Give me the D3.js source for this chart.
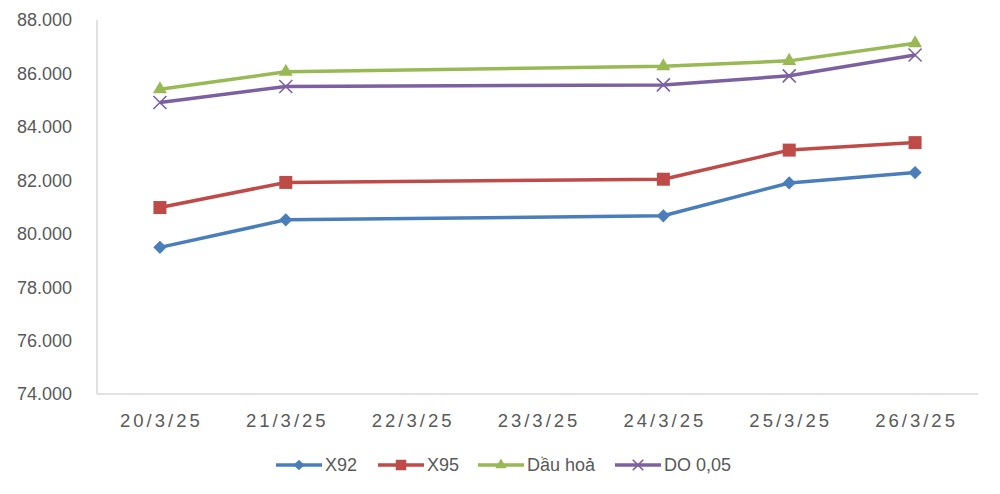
<!DOCTYPE html>
<html>
<head>
<meta charset="utf-8">
<script src="https://cdn.jsdelivr.net/npm/d3@7"></script>
<style>
  body { margin: 0; background: #fff; }
  text { font-family: 'Liberation Sans', Arial, sans-serif; fill: #595959; }
</style>
</head>
<body>
<div id="chart"></div>
<script>
const dates = ['20/3/25', '21/3/25', '22/3/25', '23/3/25', '24/3/25', '25/3/25', '26/3/25'];
// null = no quote that day, the line just joins across
const x92 = [79.49, 80.52, null, null, 80.67, 81.90, 82.29];
const x95 = [80.98, 81.92, null, null, 82.04, 83.13, 83.41];
const dauHoa = [85.41, 86.06, null, null, 86.27, 86.47, 87.13];
const do005 = [84.91, 85.51, null, null, 85.57, 85.91, 86.69];
const yTicks = [74, 76, 78, 80, 82, 84, 86, 88];

const seriesNames = ['X92', 'X95', 'Dầu hoả', 'DO 0,05'];
const seriesValues = [x92, x95, dauHoa, do005];
const colors = ['#4a7ebb', '#be4b48', '#98b954', '#7d60a0'];
const markers = ['diamond', 'square', 'triangle', 'x'];

const W = 1000;
const H = 494;
const margin = { top: 20, right: 22, bottom: 100, left: 97 };
const width = W - margin.left - margin.right;
const height = H - margin.top - margin.bottom;

const svg = d3.select('#chart').append('svg')
  .attr('width', W)
  .attr('height', H);

const g = svg.append('g')
  .attr('transform', `translate(${margin.left},${margin.top})`);

const xScale = d3.scaleBand()
  .domain(dates)
  .range([0, width]);

const yScale = d3.scaleLinear()
  .domain([74, 88])
  .range([height, 0]);

// y axis labels (88.000 style)
g.selectAll('.ylab')
  .data(yTicks)
  .enter().append('text')
  .attr('class', 'ylab')
  .attr('x', -25)
  .attr('y', d => yScale(d))
  .attr('dy', '0.36em')
  .attr('text-anchor', 'end')
  .style('font-size', '18px')
  .text(d => d3.format('.3f')(d));

// axis lines
g.append('line')
  .attr('x1', 0).attr('x2', 0)
  .attr('y1', 0).attr('y2', height)
  .attr('stroke', '#d9d9d9')
  .attr('stroke-width', 1.5);

g.append('line')
  .attr('x1', 0).attr('x2', width)
  .attr('y1', height).attr('y2', height)
  .attr('stroke', '#d9d9d9')
  .attr('stroke-width', 1.5);

// x labels, Excel-style letter spacing
g.selectAll('.xlab')
  .data(dates)
  .enter().append('text')
  .attr('class', 'xlab')
  .attr('x', d => xScale(d) + xScale.bandwidth() / 2 + 1.5)
  .attr('y', height + 26)
  .attr('dy', '0.36em')
  .attr('text-anchor', 'middle')
  .style('font-size', '18.5px')
  .style('letter-spacing', '3px')
  .text(d => d);

function markerPath(type, s) {
  if (type === 'diamond') return d3.symbol(d3.symbolDiamond2 || d3.symbolSquare, s * s * 0.5)();
  if (type === 'square') return d3.symbol(d3.symbolSquare, s * s)();
  if (type === 'triangle') return d3.symbol(d3.symbolTriangle, s * s * 0.5)();
  const h = s / 2;
  return `M${-h},${-h}L${h},${h}M${-h},${h}L${h},${-h}`;
}

function drawMarker(sel, i, s) {
  const size = markers[i] === 'diamond' ? s * 1.15 : s;
  const p = sel.append('path')
    .attr('d', markerPath(markers[i], size));
  if (markers[i] === 'x') {
    p.attr('fill', 'none').attr('stroke', colors[i]).attr('stroke-width', 1.6);
  } else {
    p.attr('fill', colors[i]);
    if (markers[i] === 'diamond' && !d3.symbolDiamond2) p.attr('transform', 'rotate(45)');
  }
}

const line = d3.line()
  .x(d => xScale(d.date) + xScale.bandwidth() / 2)
  .y(d => yScale(d.value));

seriesValues.forEach((vals, i) => {
  const pts = dates.map((date, j) => ({ date, value: vals[j] }))
    .filter(d => d.value != null);

  g.append('path')
    .attr('d', line(pts))
    .attr('fill', 'none')
    .attr('stroke', colors[i])
    .attr('stroke-width', 3.5)
    .attr('stroke-linejoin', 'round');

  pts.forEach((d) => {
    const m = g.append('g')
      .attr('transform', `translate(${xScale(d.date) + xScale.bandwidth() / 2},${yScale(d.value)})`);
    drawMarker(m, i, 13);
  });
});

// legend
const legendX = [276, 378, 478, 615];
const legend = svg.append('g').attr('transform', 'translate(0,465)');
seriesNames.forEach((name, i) => {
  const item = legend.append('g').attr('transform', `translate(${legendX[i]},0)`);
  item.append('line')
    .attr('x1', 0).attr('x2', 46)
    .attr('stroke', colors[i])
    .attr('stroke-width', 3.5);
  const m = item.append('g').attr('transform', 'translate(23,0)');
  drawMarker(m, i, 10.5);
  item.append('text')
    .attr('x', 49)
    .attr('dy', '0.36em')
    .style('font-size', '18px')
    .text(name);
});
</script>
</body>
</html>
